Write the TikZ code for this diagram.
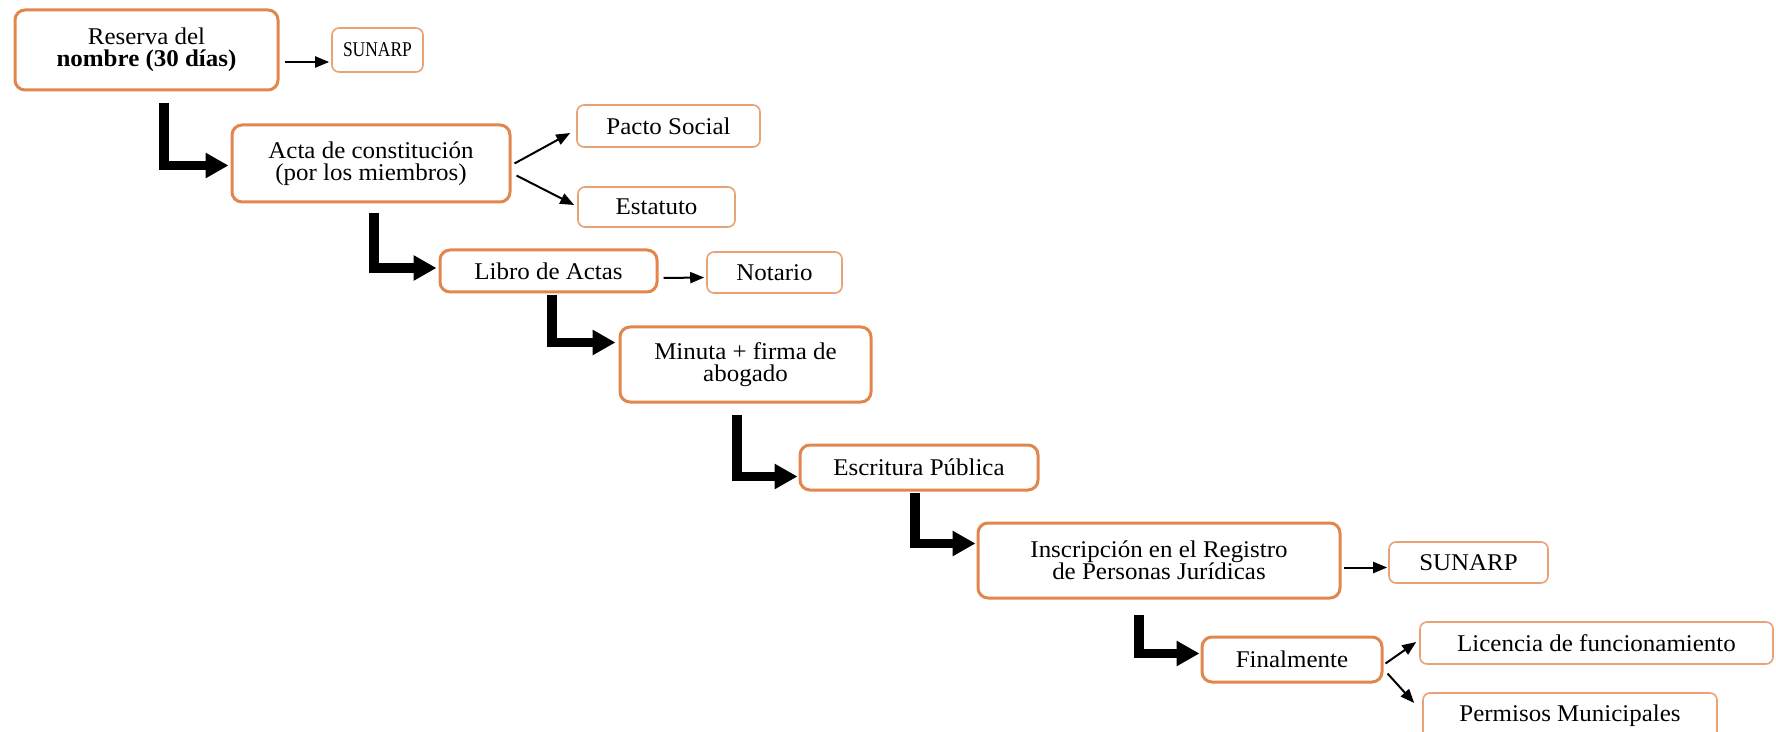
\documentclass[tikz,border=0pt]{standalone}
\usepackage{fontspec}
\setmainfont{Liberation Serif}[FakeStretch=1.04]
\usetikzlibrary{arrows.meta}

\definecolor{boxorange}{RGB}{226,134,78}
\definecolor{lightorange}{RGB}{232,162,118}

% \boxnode{style}{name}{x1}{y1}{x2}{y2}{text}  (pixel corners, y downwards)
\newcommand\boxnode[7]{%
  \node[#1, minimum width={(#5-#3)*0.5pt}, minimum height={(#6-#4)*0.5pt}]
    (#2) at ({(#3+#5)/2},{(#4+#6)/2}) {#7};}

\tikzset{
  mainbox/.style={draw=boxorange, line width=1.5pt, rounded corners=5pt,
    fill=white, inner sep=0pt, align=center},
  sidebox/.style={draw=lightorange, line width=0.8pt, rounded corners=3.5pt,
    fill=white, inner sep=0pt, align=center},
  thinarrow/.style={draw=black, line width=1pt,
    -{Triangle[length=7pt,width=5.5pt]}},
  bentarrow/.style={draw=black, line width=4.8pt, miter limit=4,
    -{Triangle[length=11.5pt,width=12pt]}}
}

\begin{document}
\begin{tikzpicture}[x=0.5pt, y=-0.5pt, font=\fontsize{12}{11}\selectfont]
  \useasboundingbox (0,0) rectangle (1776,732);
  \fill[white] (0,0) rectangle (1776,732);
  \clip (0,0) rectangle (1776,732);

  % main steps
  \boxnode{mainbox}{res}{15}{10}{278}{90}{Reserva del\\\textbf{nombre (30 días)}}
  \boxnode{mainbox}{acta}{232}{125}{510}{202}{Acta de constitución\\(por los miembros)}
  \boxnode{mainbox}{libro}{440}{250}{657}{292}{Libro de Actas}
  \boxnode{mainbox}{minuta}{620}{327}{871}{402}{Minuta + firma de\\abogado}
  \boxnode{mainbox}{escr}{800}{445}{1038}{490}{Escritura Pública}
  \boxnode{mainbox}{insc}{978}{523}{1340}{598}{Inscripción en el Registro\\de Personas Jurídicas}
  \boxnode{mainbox}{final}{1202}{637}{1382}{682}{Finalmente}

  % side items
  \boxnode{sidebox}{sun1}{332}{28}{423}{72}{\fontsize{10.5}{12}\selectfont\scalebox{0.8}[1]{SUNARP}}
  \boxnode{sidebox}{pacto}{577}{105}{760}{147}{Pacto Social}
  \boxnode{sidebox}{estat}{578}{187}{735}{227}{Estatuto}
  \boxnode{sidebox}{notario}{707}{252}{842}{293}{Notario}
  \boxnode{sidebox}{sun2}{1389}{542}{1548}{583}{SUNARP}
  \boxnode{sidebox}{lic}{1420}{622}{1773}{664}{Licencia de funcionamiento}
  \boxnode{sidebox}{perm}{1423}{693}{1717}{745}{\raisebox{6pt}{Permisos Municipales}}

  % thin connectors to side items
  \draw[thinarrow] ([shift={(5,12)}]res.east) -- ([shift={(-2,12)}]sun1.west);
  \draw[thinarrow] ([shift={(3,0)}]acta.east) -- ([shift={(-6,7)}]pacto.west);
  \draw[thinarrow] ([shift={(5,12)}]acta.east) -- ([shift={(-3,-2)}]estat.west);
  \draw[thinarrow] ([shift={(5,7)}]libro.east) -- ([shift={(-2,5)}]notario.west);
  \draw[thinarrow] ([shift={(2,7)}]insc.east) -- ([shift={(-1,5)}]sun2.west);
  \draw[thinarrow] ([shift={(2,4)}]final.east) -- ([shift={(-3,-1)}]lic.west);
  \draw[thinarrow] ([shift={(4,14)}]final.east) -- ([shift={(-8,-16)}]perm.west);

  % bent arrows between steps
  \coordinate (b1) at (164,103);
  \coordinate (b2) at (374,213);
  \coordinate (b3) at (552,295);
  \coordinate (b4) at (737,415);
  \coordinate (b5) at (915,493);
  \coordinate (b6) at (1139,615);
  \draw[bentarrow] (b1) |- ([shift={(-2,2)}]acta.west);
  \draw[bentarrow] (b2) |- ([shift={(-2,-3)}]libro.west);
  \draw[bentarrow] (b3) |- ([shift={(-3,-22)}]minuta.west);
  \draw[bentarrow] (b4) |- ([shift={(-1,9)}]escr.west);
  \draw[bentarrow] (b5) |- ([shift={(-1,-17)}]insc.west);
  \draw[bentarrow] (b6) |- ([shift={(-1,-6)}]final.west);
\end{tikzpicture}
\end{document}
